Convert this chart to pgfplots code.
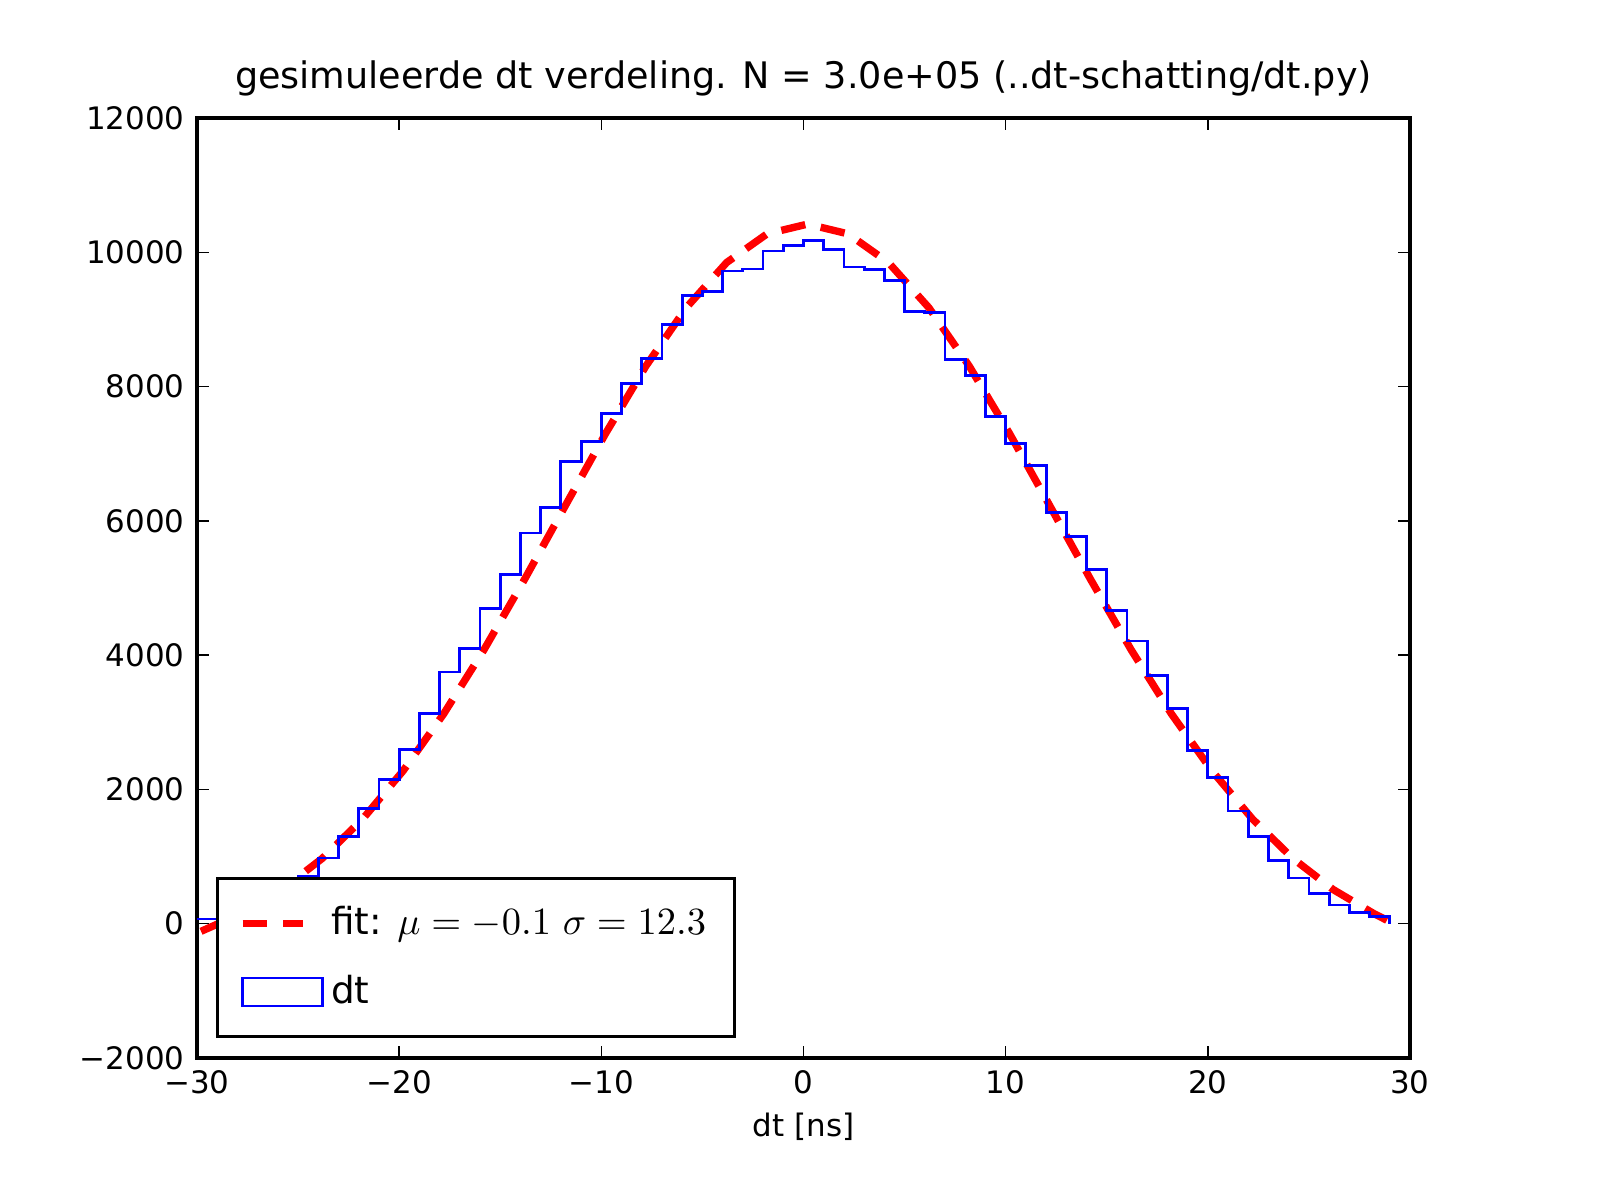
\documentclass[border=0pt]{standalone}
\usepackage{pgfplots}
\pgfplotsset{compat=1.18}
\usepackage{fontspec}
\setmainfont{DejaVu Sans}
\begin{document}
\begin{tikzpicture}
\begin{axis}[name=ax, scale only axis, width=12.13cm, height=9.4cm,
  xmin=-30, xmax=30, ymin=-2000, ymax=12000, scaled ticks=false,
  xtick={-30,-20,-10,0,10,20,30},
  xticklabels={−30,−20,−10,0,10,20,30},
  ytick={-2000,0,2000,4000,6000,8000,10000,12000},
  yticklabels={−2000,0,2000,4000,6000,8000,10000,12000},
  tick align=inside, tick style={black, thin}, major tick length=0.12cm,
  axis line style={line width=0.9pt},
  ticklabel style={font=\fontsize{8.8}{10}\selectfont},
  xlabel={dt [ns]}, xlabel style={font=\fontsize{8.8}{10}\selectfont, yshift=0.05cm},
  title={gesimuleerde dt verdeling. N = 3.0e+05 (..dt-schatting/dt.py)},
  title style={font=\fontsize{10.4}{12}\selectfont, yshift=-0.12cm},
  legend cell align=left,
  legend style={at={(0.016,0.021)}, anchor=south west, draw=black, line width=0.8pt,
    font=\fontsize{10.6}{13}\selectfont, inner xsep=6pt, inner ysep=6pt, row sep=6pt},
]
\addplot[red, line width=2.1pt, dash pattern=on 7pt off 4.5pt] coordinates {
(-29.8,-113) (-27.8,153) (-25.8,509) (-23.8,974) (-21.8,1562) (-19.8,2279)
(-17.8,3125) (-15.8,4083) (-13.8,5128) (-11.8,6216) (-9.8,7296) (-7.8,8304)
(-5.8,9175) (-3.8,9848) (-1.8,10275) (0.2,10420) (2.2,10275) (4.2,9848)
(6.2,9175) (8.2,8304) (10.2,7296) (12.2,6216) (14.2,5128) (16.2,4083)
(18.2,3125) (20.2,2279) (22.2,1562) (24.2,974) (26.2,509) (28.2,153) (29,30)
};
\addlegendentry{fit: $\mu = -0.1\ \sigma = 12.3$}
\addplot[blue, line width=0.8pt, const plot mark left,
  legend image code/.code={\draw[blue, line width=0.8pt] (0cm,-0.14cm) rectangle (0.8cm,0.14cm);}]
coordinates {
(-30,70) (-29,100) (-28,150) (-27,280) (-26,420) (-25,700) (-24,980) (-23,1300)
(-22,1720) (-21,2150) (-20,2600) (-19,3130) (-18,3750) (-17,4100) (-16,4700)
(-15,5200) (-14,5820) (-13,6200) (-12,6880) (-11,7180) (-10,7600) (-9,8050)
(-8,8420) (-7,8930) (-6,9360) (-5,9420) (-4,9720) (-3,9750) (-2,10020) (-1,10100)
(0,10180) (1,10040) (2,9780) (3,9740) (4,9580) (5,9120) (6,9100) (7,8400)
(8,8160) (9,7560) (10,7150) (11,6820) (12,6120) (13,5770) (14,5270) (15,4660)
(16,4210) (17,3700) (18,3200) (19,2580) (20,2180) (21,1680) (22,1300) (23,940)
(24,680) (25,450) (26,280) (27,170) (28,110) (29,0)
};
\addlegendentry{dt}
\end{axis}
\path ([xshift=-1.97cm,yshift=-1.42cm]ax.south west) rectangle ([xshift=1.9cm,yshift=1.18cm]ax.north east);
\end{tikzpicture}
\end{document}
